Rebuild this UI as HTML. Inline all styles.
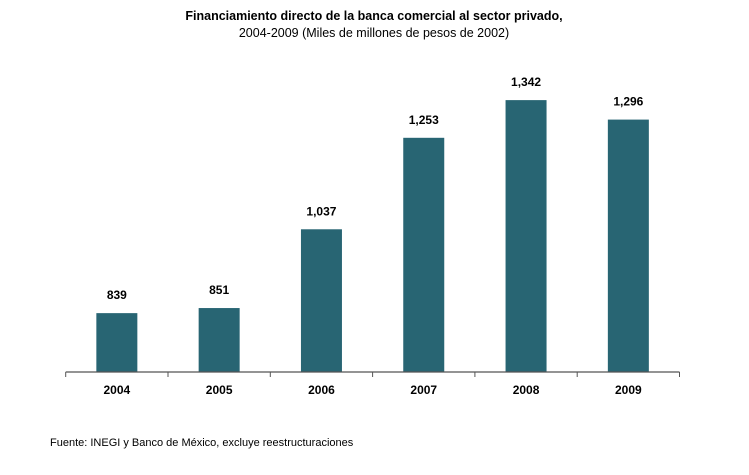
<!DOCTYPE html>
<html><head><meta charset="utf-8"><style>
body{margin:0;background:#fff;width:749px;height:470px;overflow:hidden;font-family:"Liberation Sans",Arial,sans-serif;}
</style></head><body>
<svg width="749" height="470">
<text x="374" y="20" text-anchor="middle" font-size="12.5" font-weight="bold" fill="#000">Financiamiento directo de la banca comercial al sector privado,</text>
<text x="374" y="37" text-anchor="middle" font-size="12.5" fill="#000">2004-2009 (Miles de millones de pesos de 2002)</text>
<g id="plot"></g>
<text x="50" y="446" font-size="11" fill="#000">Fuente: INEGI y Banco de México, excluye reestructuraciones</text>
</svg>
<script>
const categories=["2004","2005","2006","2007","2008","2009"];
const values=[839,851,1037,1253,1342,1296];
const valueLabels=["839","851","1,037","1,253","1,342","1,296"];
const yMin=700, pxPerUnit=0.4235, baseY=372, x0=65.7, catW=102.3, barW=41;
const ns="http://www.w3.org/2000/svg";
const g=document.getElementById('plot');
function y(v){return baseY-(v-yMin)*pxPerUnit;}
function xc(i){return x0+catW*(i+0.5);}
function mk(t,a){const e=document.createElementNS(ns,t);for(const k in a)e.setAttribute(k,a[k]);g.appendChild(e);return e;}
categories.forEach((c,i)=>{
  const b=mk('rect',{x:xc(i)-barW/2,y:y(values[i]),width:barW,height:baseY-y(values[i]),fill:'#286573'});
  
  
  const t=mk('text',{x:xc(i),y:y(values[i])-14,'text-anchor':'middle','font-size':'12','font-weight':'bold',fill:'#000'});
  t.textContent=valueLabels[i];
  
  
  const l=mk('text',{x:xc(i),y:baseY+22,'text-anchor':'middle','font-size':'12','font-weight':'bold',fill:'#000'});
  l.textContent=c;
  
  
});
for(let i=0;i<=categories.length;i++){
  const tk=mk('line',{x1:x0+catW*i,x2:x0+catW*i,y1:baseY,y2:baseY+5,stroke:'#555','stroke-width':1});
  
  
}
const ax=mk('line',{x1:x0,x2:x0+catW*categories.length,y1:baseY,y2:baseY,stroke:'#555','stroke-width':1.2});


</script>
</body></html>
